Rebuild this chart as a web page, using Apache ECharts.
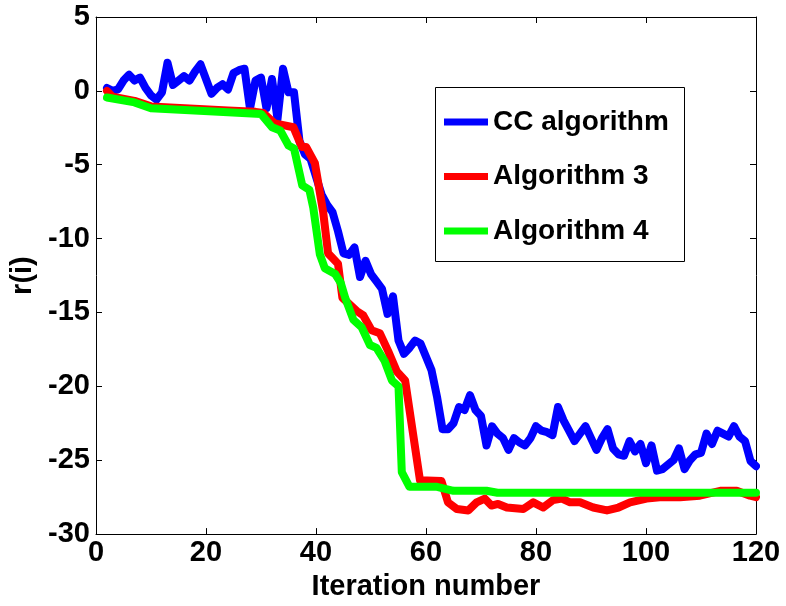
<!DOCTYPE html>
<html>
<head>
<meta charset="utf-8">
<script src="https://cdn.jsdelivr.net/npm/echarts@6/dist/echarts.min.js"></script>
<style>
  html, body { margin: 0; padding: 0; background: #fff; }
  #chart { width: 786px; height: 606px; }
</style>
</head>
<body>
<div id="chart"></div>
<script>
// values (iteration, r(i)) at the polyline corners
const ccIter = [2, 3, 4, 5, 6, 7, 8, 9, 10, 11, 12, 13, 14, 15, 16, 17, 18, 19, 20, 21, 22, 23, 24, 25, 26, 27, 28, 29, 30, 31, 32, 33, 34, 35, 36, 37, 38, 39, 40, 41, 42, 43, 44, 45, 46, 47, 48, 49, 50, 51, 52, 53, 54, 55, 56, 57, 58, 59, 60, 61, 62, 63, 64, 65, 66, 67, 68, 69, 70, 71, 72, 73, 74, 75, 76, 77, 78, 79, 80, 81, 82, 83, 84, 85, 86, 87, 88, 89, 90, 91, 92, 93, 94, 95, 96, 97, 98, 99, 100, 101, 102, 103, 104, 105, 106, 107, 108, 109, 110, 111, 112, 113, 114, 115, 116, 117, 118, 119, 120]
const ccValues = [0.2, 0.0, 0.1, 0.7, 1.1, 0.7, 0.9, 0.2, -0.3, -0.6, -0.1, 1.9, 0.4, 0.7, 1.0, 0.7, 1.3, 1.8, 0.8, -0.2, 0.2, 0.45, 0.1, 1.2, 1.4, 1.5, -1.2, 0.7, 0.9, -1.2, 0.8, -1.9, 1.5, -0.1, -0.1, -3.4, -4.3, -4.6, -5.8, -7.0, -7.7, -8.2, -9.5, -11.0, -11.1, -10.6, -12.6, -11.5, -12.4, -12.9, -13.4, -15.1, -13.9, -16.9, -17.8, -17.4, -16.9, -17.1, -18.0, -18.9, -20.7, -22.9, -22.9, -22.5, -21.4, -21.6, -20.6, -21.6, -22.0, -24.0, -22.7, -23.2, -23.5, -24.3, -23.5, -23.8, -24.0, -23.5, -22.7, -23.0, -23.1, -23.3, -21.4, -22.3, -23.0, -23.7, -23.2, -22.7, -23.5, -24.3, -23.5, -22.9, -24.2, -24.6, -24.7, -23.7, -24.4, -23.9, -25.2, -24.0, -25.7, -25.6, -25.3, -25.0, -24.2, -25.6, -25.0, -24.6, -24.5, -23.2, -23.9, -23.0, -23.2, -23.4, -22.7, -23.4, -23.7, -25.05, -25.4]

const alg3Iter = [2, 3, 7, 10, 24, 29, 30.4, 32.5, 35.9, 37.4, 38.2, 39.8, 41.3, 42.2, 44, 44.8, 47.4, 48.6, 50.1, 51.6, 53.1, 54.7, 56.2, 58.9, 62.8, 64, 65.6, 67.7, 69.2, 70.7, 71.9, 73.1, 74.7, 77.7, 79.5, 81.3, 83.1, 84.7, 86.2, 88, 90.4, 92.9, 95, 97.1, 100.1, 102.5, 106.2, 109.8, 113.5, 116.5, 118.9, 120]
const alg3Values = [0.0, -0.4, -0.68, -1.05, -1.33, -1.42, -1.5, -2.2, -2.46, -3.8, -3.8, -4.9, -8.2, -11.0, -11.7, -14.0, -14.9, -15.2, -16.2, -16.4, -17.6, -19.0, -19.6, -26.35, -26.4, -27.85, -28.3, -28.4, -27.85, -27.6, -28.07, -27.96, -28.2, -28.3, -27.85, -28.2, -27.7, -27.6, -27.85, -27.85, -28.2, -28.4, -28.2, -27.85, -27.6, -27.5, -27.5, -27.4, -27.07, -27.07, -27.4, -27.5]

const alg4Iter = [2, 7, 10, 24, 30, 32, 33.5, 35, 36, 37.5, 38.8, 39.5, 40.7, 41.6, 43.5, 44.5, 45.3, 46.8, 48.3, 49.8, 51, 52.5, 53.8, 55, 55.6, 57, 62, 65, 71, 73, 120]
const alg4Values = [-0.45, -0.78, -1.18, -1.45, -1.56, -2.46, -2.68, -3.7, -3.9, -6.4, -6.7, -7.9, -11.07, -12.0, -12.4, -13.0, -14.0, -15.5, -16.0, -17.2, -17.4, -18.3, -19.6, -20.0, -25.8, -26.8, -26.8, -27.07, -27.07, -27.2, -27.2]

const seriesNames = ['CC algorithm', 'Algorithm 3', 'Algorithm 4']
const seriesColors = ['#0000ff', '#ff0000', '#00ff00']

const fontFamily = '"Liberation Sans", Arial, Helvetica, sans-serif'

function pairs (xs, ys) {
  return xs.map((x, i) => [x, ys[i]])
}

function lineSeries (name, color, data) {
  return {
    name,
    type: 'line',
    data,
    symbol: 'none',
    color,
    lineStyle: { color, width: 8, join: 'round', cap: 'round' }
  }
}

function boxAxis (position, extra) {
  return Object.assign({
    position,
    axisLine: { show: true, onZero: false, lineStyle: { color: '#000', width: 1 } },
    axisTick: { show: true, inside: true, length: 6, lineStyle: { color: '#000' } },
    axisLabel: { show: false },
    splitLine: { show: false }
  }, extra)
}

const dom = echarts.init(document.getElementById('chart'), null, { renderer: 'canvas' })

const labelStyle = { color: '#000', fontSize: 29, fontWeight: 'bold', fontFamily }

const option = {
  animation: false,
  backgroundColor: '#fff',
  grid: { left: 96, right: 30, top: 17, bottom: 67, containLabel: false },
  xAxis: [
    boxAxis('bottom', {
      type: 'value', min: 0, max: 120, interval: 20,
      axisLabel: Object.assign({ show: true, margin: 4 }, labelStyle),
      name: 'Iteration number',
      nameLocation: 'middle',
      nameGap: 34,
      nameTextStyle: labelStyle
    }),
    boxAxis('top', { type: 'value', min: 0, max: 120, interval: 20 })
  ],
  yAxis: [
    boxAxis('left', {
      type: 'value', min: -30, max: 5, interval: 5,
      axisLabel: Object.assign({ show: true, margin: 6 }, labelStyle),
      name: 'r(i)',
      nameLocation: 'middle',
      nameRotate: 90,
      nameGap: 53,
      nameTextStyle: labelStyle
    }),
    boxAxis('right', { type: 'value', min: -30, max: 5, interval: 5 })
  ],
  legend: {
    data: seriesNames,
    orient: 'vertical',
    left: 435,
    top: 87,
    padding: [20, 0, 0, 9],
    icon: 'rect',
    itemWidth: 44,
    itemHeight: 7,
    itemGap: 24.5,
    textStyle: { color: '#000', fontSize: 28, fontWeight: 'bold', fontFamily, lineHeight: 30 }
  },
  graphic: [{
    type: 'rect',
    left: 435,
    top: 87,
    shape: { width: 249, height: 174 },
    style: { fill: '#fff', stroke: '#000', lineWidth: 1 },
    z: 1
  }],
  series: [
    lineSeries(seriesNames[0], seriesColors[0], pairs(ccIter, ccValues)),
    lineSeries(seriesNames[1], seriesColors[1], pairs(alg3Iter, alg3Values)),
    lineSeries(seriesNames[2], seriesColors[2], pairs(alg4Iter, alg4Values))
  ]
}

dom.setOption(option)
</script>
</body>
</html>
